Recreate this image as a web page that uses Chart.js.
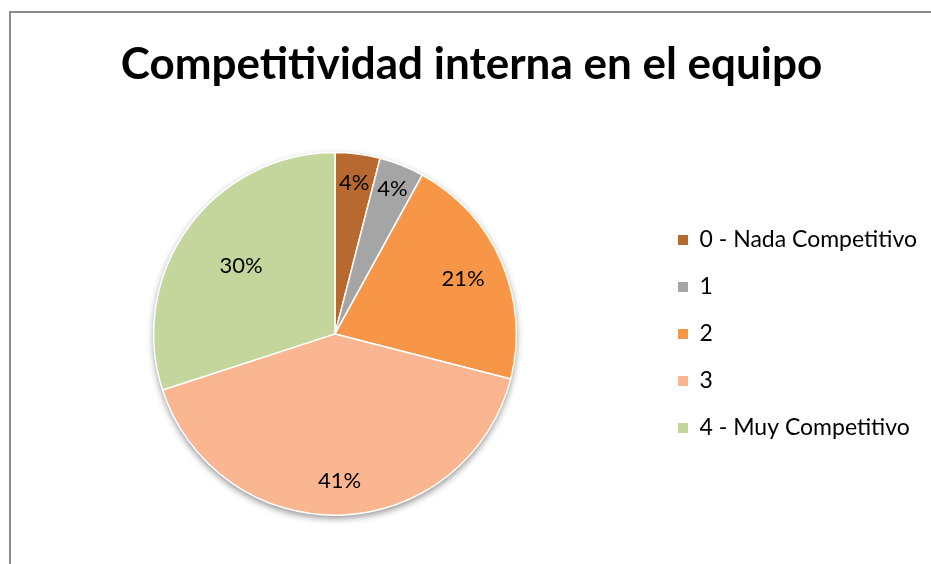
<!DOCTYPE html>
<html>
<head>
<meta charset="utf-8">
<script src="https://cdn.jsdelivr.net/npm/chart.js@4/dist/chart.umd.min.js"></script>
<style>
  html, body { margin: 0; padding: 0; background: #fff; }
  #wrap { width: 931px; height: 564px; position: relative; }
</style>
</head>
<body>
<div id="wrap"><canvas id="c"></canvas></div>
<script>
const categories = [ '0 - Nada Competitivo', '1', '2', '3', '4 - Muy Competitivo' ];
const shares = [ 4, 4, 21, 41, 30 ];
const colors = [ '#B8692F', '#A5A5A5', '#F79646', '#F9B690', '#C4D69B' ];

Chart.defaults.font.family = 'Lato, sans-serif';
Chart.defaults.color = '#000';

// frame of the chart box, cut off at right and bottom
const frame = {
    id: 'frame',
    beforeDraw( chart ) {
        const ctx = chart.ctx;
        ctx.save();
        ctx.strokeStyle = '#8a8a8a';
        ctx.lineWidth = 2;
        ctx.strokeRect( 10, 12, 1000, 1000 );
        ctx.restore();
    }
};

// soft drop shadow under the whole pie
const pieShadow = {
    id: 'pieShadow',
    beforeDatasetsDraw( chart ) {
        const arc = chart.getDatasetMeta( 0 ).data[ 0 ];
        if ( !arc ) return;
        const ctx = chart.ctx;
        ctx.save();
        ctx.shadowColor = 'rgba(0,0,0,0.45)';
        ctx.shadowBlur = 7;
        ctx.shadowOffsetY = 3;
        ctx.fillStyle = '#fff';
        ctx.beginPath();
        ctx.arc( arc.x, arc.y, arc.outerRadius, 0, Math.PI * 2 );
        ctx.fill();
        ctx.restore();
    }
};

// percentage labels inside the slices
const pctLabels = {
    id: 'pctLabels',
    afterDatasetsDraw( chart, args, opts ) {
        const ctx = chart.ctx;
        const data = chart.data.datasets[ 0 ].data;
        const total = data.reduce( ( a, b ) => a + b, 0 );
        ctx.save();
        ctx.font = '22px Lato, sans-serif';
        ctx.fillStyle = '#000';
        ctx.textAlign = 'center';
        ctx.textBaseline = 'middle';
        chart.getDatasetMeta( 0 ).data.forEach( ( arc, i ) => {
            const mid = ( arc.startAngle + arc.endAngle ) / 2;
            const r = arc.outerRadius * opts.radius[ i ];
            const x = arc.x + Math.cos( mid ) * r;
            const y = arc.y + Math.sin( mid ) * r;
            ctx.fillText( Math.round( data[ i ] / total * 100 ) + '%', x, y );
        } );
        ctx.restore();
    }
};

new Chart( document.getElementById( 'c' ), {
    type: 'pie',
    data: {
        labels: categories,
        datasets: [ {
            data: shares,
            backgroundColor: colors,
            borderColor: '#fff',
            borderWidth: 1.5
        } ]
    },
    options: {
        responsive: true,
        maintainAspectRatio: false,
        animation: false,
        events: [],
        layout: { padding: { left: 16, right: 4, top: 0, bottom: 48 } },
        plugins: {
            title: {
                display: true,
                text: 'Competitividad interna en el equipo',
                font: { size: 44, weight: 'bold' },
                color: '#000',
                padding: { top: 38, bottom: 61 }
            },
            legend: {
                position: 'right',
                fullSize: false,
                labels: {
                    boxWidth: 10,
                    boxHeight: 10,
                    padding: 24,
                    font: { size: 23 },
                    color: '#000',
                    generateLabels( chart ) {
                        return Chart.overrides.pie.plugins.legend.labels.generateLabels( chart )
                            .map( l => Object.assign( l, { lineWidth: 0 } ) );
                    }
                }
            },
            tooltip: { enabled: false },
            pctLabels: { radius: [ 0.84, 0.86, 0.77, 0.81, 0.64 ] }
        }
    },
    plugins: [ frame, pieShadow, pctLabels ]
} );
</script>
</body>
</html>
